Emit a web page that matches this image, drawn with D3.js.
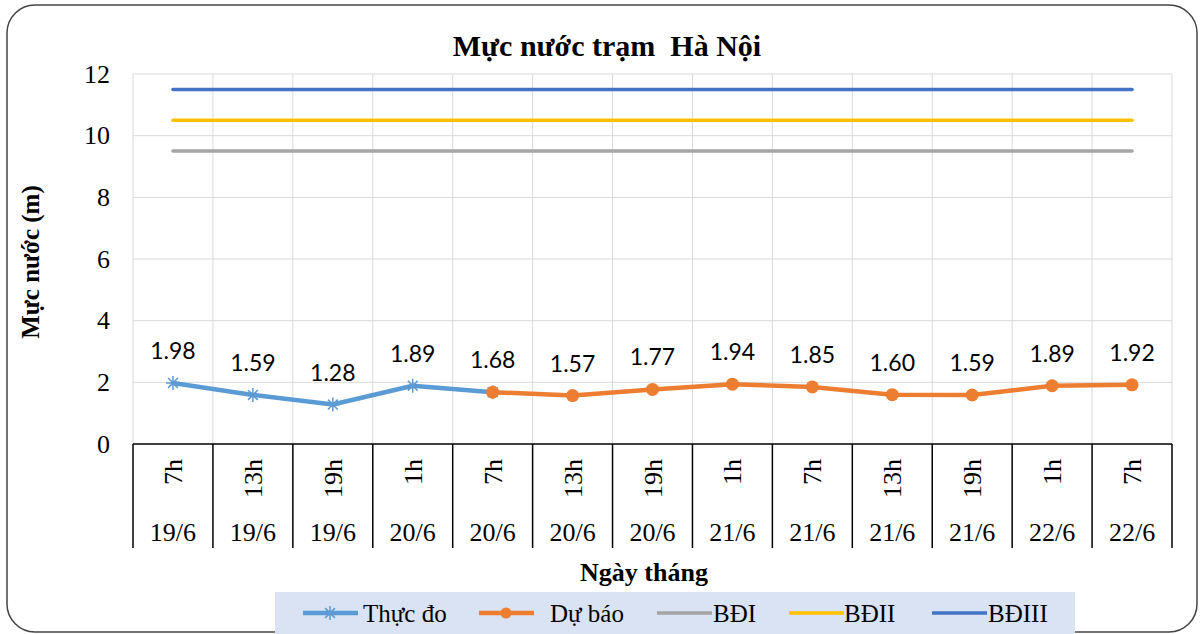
<!DOCTYPE html>
<html lang="vi">
<head>
<meta charset="UTF-8">
<title>Mực nước trạm Hà Nội</title>
<style>
  body { margin: 0; background: #fff; }
  svg { display: block; }
</style>
</head>
<body>
<svg id="chart" width="1204" height="634"></svg>
<script src="https://d3js.org/d3.v7.min.js"></script>
<script>
// data
var hours = ["7h", "13h", "19h", "1h", "7h", "13h", "19h", "1h", "7h", "13h", "19h", "1h", "7h"];
var dates = ["19/6", "19/6", "19/6", "20/6", "20/6", "20/6", "20/6", "21/6", "21/6", "21/6", "21/6", "22/6", "22/6"];
var thucDo = [1.98, 1.59, 1.28, 1.89, 1.68, null, null, null, null, null, null, null, null];
var duBao  = [null, null, null, null, 1.68, 1.57, 1.77, 1.94, 1.85, 1.60, 1.59, 1.89, 1.92];
var bdI   = [9.5, 9.5, 9.5, 9.5, 9.5, 9.5, 9.5, 9.5, 9.5, 9.5, 9.5, 9.5, 9.5];
var bdII  = [10.5, 10.5, 10.5, 10.5, 10.5, 10.5, 10.5, 10.5, 10.5, 10.5, 10.5, 10.5, 10.5];
var bdIII = [11.5, 11.5, 11.5, 11.5, 11.5, 11.5, 11.5, 11.5, 11.5, 11.5, 11.5, 11.5, 11.5];
var yTicks = [0, 2, 4, 6, 8, 10, 12];
var seriesNames = ["Thực đo", "Dự báo", "BĐI", "BĐII", "BĐIII"];

var svg = d3.select("#chart"),
    serif = "'Liberation Serif', 'Times New Roman', serif",
    pLeft = 133, pRight = 1172, pTop = 74, pBottom = 444;

var idx = d3.range(hours.length);
var x = d3.scaleBand().domain(idx).range([pLeft, pRight]);
var y = d3.scaleLinear().domain([0, 12]).range([pBottom, pTop]);
var cx = function (i) { return x(i) + x.bandwidth() / 2; };

// outer frame
svg.append("rect")
  .attr("x", 7).attr("y", 5).attr("width", 1190).attr("height", 627)
  .attr("rx", 28).attr("fill", "#fff")
  .attr("stroke", "#444").attr("stroke-width", 1.5);

// title
svg.append("text")
  .attr("x", 607).attr("y", 56).attr("text-anchor", "middle")
  .style("white-space", "pre")
  .style("font-family", serif).style("font-weight", "bold").style("font-size", "30px")
  .text("Mực nước trạm  Hà Nội");

// grid
var grid = svg.append("g");
grid.selectAll("line.h").data(yTicks.slice(1)).enter().append("line")
  .attr("x1", pLeft).attr("x2", pRight)
  .attr("y1", function (d) { return y(d); }).attr("y2", function (d) { return y(d); })
  .attr("stroke", "#d9d9d9").attr("stroke-width", 1);
grid.selectAll("line.v").data(d3.range(hours.length + 1)).enter().append("line")
  .attr("x1", function (i) { return pLeft + i * x.bandwidth(); })
  .attr("x2", function (i) { return pLeft + i * x.bandwidth(); })
  .attr("y1", pTop).attr("y2", pBottom)
  .attr("stroke", "#d9d9d9").attr("stroke-width", 1);

// y axis labels
var yAxis = d3.axisLeft(y).tickValues(yTicks).tickSize(0).tickPadding(23);
svg.append("g").attr("transform", "translate(" + pLeft + ",0)").call(yAxis)
  .call(function (g) { g.select(".domain").remove(); })
  .selectAll("text")
  .style("font-family", serif).style("font-size", "26px").attr("fill", "#000");

svg.append("text")
  .attr("transform", "translate(39,262) rotate(-90)")
  .attr("text-anchor", "middle")
  .style("font-family", serif).style("font-weight", "bold").style("font-size", "25px")
  .text("Mực nước (m)");

// category box below the axis
var catBottom = 548;
svg.append("line")
  .attr("x1", pLeft).attr("x2", pRight).attr("y1", pBottom).attr("y2", pBottom)
  .attr("stroke", "#000").attr("stroke-width", 1.5);
svg.selectAll("line.sep").data(d3.range(hours.length + 1)).enter().append("line")
  .attr("x1", function (i) { return pLeft + i * x.bandwidth(); })
  .attr("x2", function (i) { return pLeft + i * x.bandwidth(); })
  .attr("y1", pBottom).attr("y2", catBottom)
  .attr("stroke", "#000").attr("stroke-width", 1.5);

svg.selectAll("text.hour").data(idx).enter().append("text")
  .attr("transform", function (i) { return "translate(" + (cx(i) + 9) + ",459) rotate(-90)"; })
  .attr("text-anchor", "end")
  .style("font-family", serif).style("font-size", "26px")
  .text(function (i) { return hours[i]; });

svg.selectAll("text.date").data(idx).enter().append("text")
  .attr("x", cx).attr("y", 541).attr("text-anchor", "middle")
  .style("font-family", serif).style("font-size", "26px")
  .text(function (i) { return dates[i]; });

svg.append("text")
  .attr("x", 644).attr("y", 581).attr("text-anchor", "middle")
  .style("font-family", serif).style("font-weight", "bold").style("font-size", "26px")
  .text("Ngày tháng");

// lines
var line = d3.line()
  .defined(function (d) { return d != null; })
  .x(function (d, i) { return cx(i); })
  .y(function (d) { return y(d); });

var blue = "#5b9bd5", orange = "#ed7d31";
var colors = [blue, orange, "#a5a5a5", "#ffc000", "#4472c4"];

[bdI, bdII, bdIII].forEach(function (s, k) {
  svg.append("path").datum(s).attr("d", line)
    .attr("fill", "none").attr("stroke", colors[k + 2]).attr("stroke-width", 3.5)
    .attr("stroke-linecap", "round");
});

svg.append("path").datum(thucDo).attr("d", line)
  .attr("fill", "none").attr("stroke", blue).attr("stroke-width", 4.5)
  .attr("stroke-linejoin", "round");
svg.append("path").datum(duBao).attr("d", line)
  .attr("fill", "none").attr("stroke", orange).attr("stroke-width", 4.5)
  .attr("stroke-linejoin", "round");

function star(g, px, py, col) {
  var s = 7;
  g.append("path")
    .attr("d", "M" + (px - s) + "," + py + "H" + (px + s) +
               "M" + px + "," + (py - s) + "V" + (py + s) +
               "M" + (px - s * 0.7) + "," + (py - s * 0.7) + "L" + (px + s * 0.7) + "," + (py + s * 0.7) +
               "M" + (px - s * 0.7) + "," + (py + s * 0.7) + "L" + (px + s * 0.7) + "," + (py - s * 0.7))
    .attr("stroke", col).attr("stroke-width", 1.5).attr("fill", "none");
}

idx.forEach(function (i) {
  if (thucDo[i] != null) star(svg, cx(i), y(thucDo[i]), blue);
});
svg.selectAll("circle.db").data(idx.filter(function (i) { return duBao[i] != null; }))
  .enter().append("circle")
  .attr("cx", cx).attr("cy", function (i) { return y(duBao[i]); })
  .attr("r", 6.5).attr("fill", orange);

// data labels
svg.selectAll("text.lbl").data(idx).enter().append("text")
  .attr("x", cx)
  .attr("y", function (i) {
    var v = thucDo[i] != null ? thucDo[i] : duBao[i];
    return y(v) - 24;
  })
  .attr("text-anchor", "middle")
  .style("font-family", "Lato, 'Liberation Sans', sans-serif").style("font-size", "23px")
  .text(function (i) {
    var v = thucDo[i] != null ? thucDo[i] : duBao[i];
    return v.toFixed(2);
  });

// legend
var lg = svg.append("g");
lg.append("rect").attr("x", 275).attr("y", 592).attr("width", 800).attr("height", 42)
  .attr("fill", "#dae3f3");
var lineX = [303, 479, 657, 789, 932],
    textX = [363, 550, 713, 844, 988],
    ly = 613;
seriesNames.forEach(function (name, k) {
  var col = colors[k];
  lg.append("line").attr("x1", lineX[k]).attr("x2", lineX[k] + 55).attr("y1", ly).attr("y2", ly)
    .attr("stroke", col).attr("stroke-width", k < 2 ? 4.5 : 3.5);
  if (k === 0) star(lg, lineX[k] + 27, ly, col);
  if (k === 1) lg.append("circle").attr("cx", lineX[k] + 27).attr("cy", ly).attr("r", 5.5).attr("fill", col);
  lg.append("text").attr("x", textX[k]).attr("y", ly + 9)
    .style("font-family", serif).style("font-size", "25px")
    .text(name);
});
</script>
</body>
</html>
